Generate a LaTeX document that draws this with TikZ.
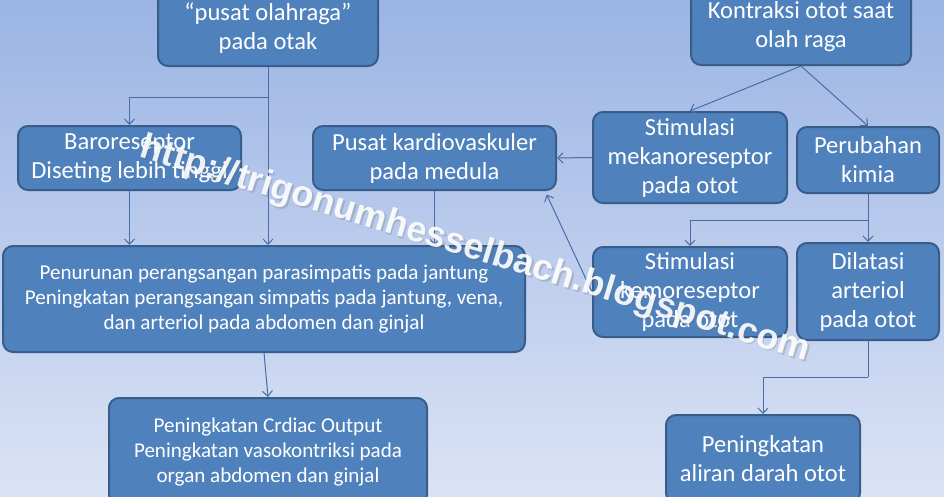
\documentclass[tikz,border=0pt]{standalone}
\usepackage{fontspec}
\setmainfont{Carlito}
\newfontfamily\markfont{Liberation Sans}
\usetikzlibrary{arrows.meta}
\definecolor{boxfill}{RGB}{79,129,189}
\definecolor{boxline}{RGB}{56,93,138}
\definecolor{linkcol}{RGB}{72,108,165}
\definecolor{bgtop}{RGB}{155,180,228}
\definecolor{bgbot}{RGB}{219,227,245}
\tikzset{every picture/.style={line width=0.75pt}}
\tikzset{
  blok/.style={draw=boxline, fill=boxfill, line width=1.5pt, rounded corners=7.5pt, text=white, align=center, inner sep=0pt, font=\fontsize{18.4}{21.75}\selectfont},
  blokkecil/.style={blok, font=\fontsize{15.8}{18.75}\selectfont},
  panah/.style={draw=linkcol, -{Straight Barb[length=4pt,width=7.5pt]}},
  garis/.style={draw=linkcol},
  tanda/.style={rotate=-17, font=\markfont\bfseries\fontsize{27}{30}\selectfont}
}
\begin{document}
\begin{tikzpicture}[x=0.75pt,y=0.75pt,yscale=-1,xscale=1]
\useasboundingbox (0,0) rectangle (944,496);

%Background
\shade[top color=bgtop, bottom color=bgbot] (0,0) rectangle (944,496);

%Boxes, top row
\node[blok, minimum width=165pt, minimum height=57pt] (pusat) at (268,28) {“pusat olahraga”\\pada otak};
\node[blok, minimum width=165pt, minimum height=57pt] (kontraksi) at (801,27) {Kontraksi otot saat\\olah raga};
%Boxes, second row
\node[blok, minimum width=167.25pt, minimum height=48pt] (baro) at (129.5,158) {Baroreseptor\\Diseting lebih tinggi};
\node[blok, minimum width=182.25pt, minimum height=48pt] (kardio) at (434.5,158) {Pusat kardiovaskuler\\pada medula};
\node[blok, minimum width=145.5pt, minimum height=68.25pt] (mekano) at (690,157.5) {Stimulasi\\mekanoreseptor\\pada otot};
\node[blok, minimum width=106.5pt, minimum height=49.5pt] (kimia) at (868,160) {Perubahan\\kimia};
%Boxes, third row
\node[blokkecil, minimum width=391.5pt, minimum height=79.5pt] (turun) at (264,299) {Penurunan perangsangan parasimpatis pada jantung\\Peningkatan perangsangan simpatis pada jantung, vena,\\dan arteriol pada abdomen dan ginjal};
\node[blok, minimum width=145.5pt, minimum height=67.5pt] (kemo) at (690,292) {Stimulasi\\kemoreseptor\\pada otot};
\node[blok, minimum width=106.5pt, minimum height=72.75pt] (dilatasi) at (868,291.5) {Dilatasi\\arteriol\\pada otot};
%Boxes, bottom row
\node[blokkecil, minimum width=238.5pt, minimum height=80.25pt] (cardiac) at (268,451.5) {Peningkatan Crdiac Output\\Peningkatan vasokontriksi pada\\organ abdomen dan ginjal};
\node[blok, minimum width=145.5pt, minimum height=66pt] (aliran) at (763,459) {Peningkatan\\aliran darah otot};

%Connectors
\coordinate (cabang1) at (268,97);
\coordinate (cabang2) at (868,220);
\coordinate (cabang3) at (868,377);
\draw[garis] (pusat.south) -- (cabang1);
\draw[panah] (cabang1) -| (baro.north);
\draw[panah] (pusat.south) -- (pusat.south |- turun.north);
\draw[panah] (baro.south) -- (baro.south |- turun.north);
\draw[panah] (kardio.south) -- (kardio.south |- turun.north);
\draw[panah] (kontraksi.south) -- (mekano.north);
\draw[panah] (kontraksi.south) -- (kimia.north);
\draw[panah] (mekano.west) -- (kardio.east);
\draw[garis] (kimia.south) -- (cabang2);
\draw[panah] (cabang2) -| (kemo.north);
\draw[panah] (cabang2) -- (dilatasi.north);
\draw[panah, shorten >=3pt] (kemo.west) -- ([xshift=-9pt]kardio.south east);
\draw[garis] (dilatasi.south) -- (cabang3);
\draw[panah] (cabang3) -| (aliran.north);
\draw[panah] (turun.south) -- (cardiac.north);

%Watermark
\node[tanda, text=black!60, opacity=0.25] at (476.5,251.5) {http://trigonumhesselbach.blogspot.com};
\node[tanda, text=white, opacity=0.9] (watermark) at (475,250) {http://trigonumhesselbach.blogspot.com};

\end{tikzpicture}
\end{document}
